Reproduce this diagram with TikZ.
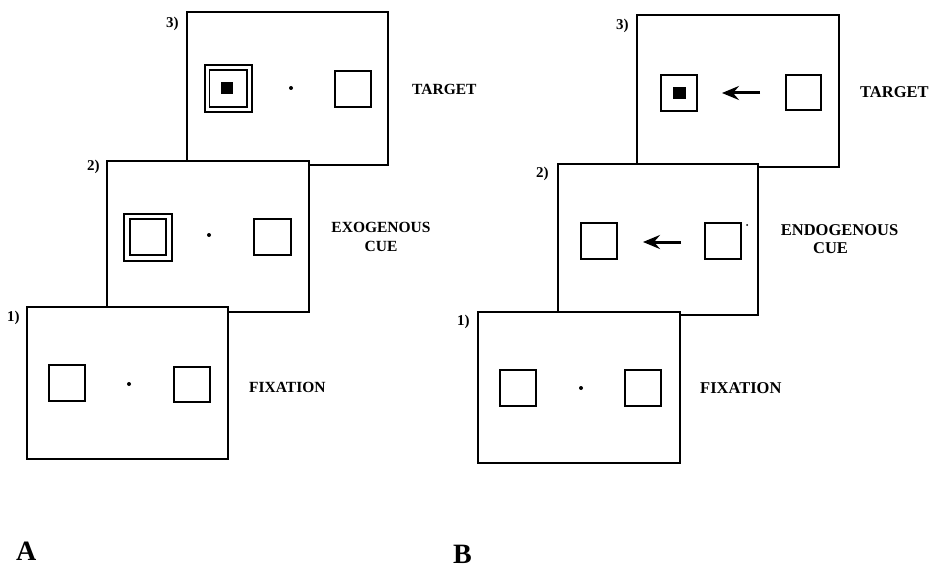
\documentclass[tikz,border=0pt]{standalone}
\usepackage{fontspec}
\setmainfont{Liberation Serif}
\usetikzlibrary{arrows.meta}

\begin{document}
\begin{tikzpicture}[x=1pt,y=-1pt,
  screen/.style={draw=black, fill=white, line width=2pt, line join=miter},
  stim/.style={draw=black, line width=1.7pt},
  probe/.style={fill=black},
  fixdot/.style={fill=black, circle, inner sep=0pt, minimum size=4pt},
  speck/.style={fill=black, circle, inner sep=0pt, minimum size=2pt},
  cuearrow/.style={line width=3pt, -{Stealth[length=17pt,width=14pt,inset=6pt]}},
  lbl/.style={font=\bfseries\fontsize{15.5}{18}\selectfont, inner sep=0pt},
  lblb/.style={font=\bfseries\fontsize{16.5}{19}\selectfont, inner sep=0pt},
  num/.style={font=\bfseries\fontsize{15}{18}\selectfont, inner sep=0pt, anchor=base west},
  panel/.style={font=\bfseries\fontsize{28}{30}\selectfont, inner sep=0pt, anchor=base west}]

\useasboundingbox (0,0) rectangle (929,575);

% ---------------- Panel A: exogenous cueing ----------------
% screen 3 (target)
\draw[screen] (187,12) rectangle (388,165);
\draw[stim] (205,65) rectangle (252,112);
\draw[stim] (209.5,70) rectangle (247,107);
\fill[probe] (221,82) rectangle (233,94);
\node[fixdot] (a3dot) at (291,88) {};
\draw[stim] (335,71) rectangle (371,107);
\node[lbl, anchor=base west] (a3lbl) at (412,95) {TARGET};
\node[num] (a3num) at (166,28) {3)};

% screen 2 (exogenous cue)
\draw[screen] (107,161) rectangle (309,312);
\draw[stim] (124,214) rectangle (172,261);
\draw[stim] (130,219) rectangle (166,255);
\node[fixdot] (a2dot) at (209,235) {};
\draw[stim] (254,219) rectangle (291,255);
\node[lbl, anchor=base] (a2lbl) at (381,232) {EXOGENOUS};
\node[lbl, anchor=base] (a2cue) at (381,251) {CUE};
\node[num] (a2num) at (87,171) {2)};

% screen 1 (fixation)
\draw[screen] (27,307) rectangle (228,459);
\draw[stim] (49,365) rectangle (85,401);
\node[fixdot] (a1dot) at (129,384) {};
\draw[stim] (174,367) rectangle (210,402);
\node[lbl, anchor=base west] (a1lbl) at (249,392) {FIXATION};
\node[num] (a1num) at (7,321) {1)};

\node[panel] (pa) at (16,560) {A};

% ---------------- Panel B: endogenous cueing ----------------
% screen 3 (target)
\draw[screen] (637,15) rectangle (839,167);
\draw[stim] (661,75) rectangle (697,111);
\fill[probe] (673,87) rectangle (686,99);
\coordinate (b3tail) at (760,93);
\coordinate (b3tip) at (722,93);
\draw[cuearrow] (b3tail) -- (b3tip);
\draw[stim] (786,75) rectangle (821,110);
\node[lblb, anchor=base west] (b3lbl) at (860,98) {TARGET};
\node[num] (b3num) at (616,30) {3)};

% screen 2 (endogenous cue)
\draw[screen] (558,164) rectangle (758,315);
\draw[stim] (581,223) rectangle (617,259);
\coordinate (b2tail) at (681,242);
\coordinate (b2tip) at (643,242);
\draw[cuearrow] (b2tail) -- (b2tip);
\draw[stim] (705,223) rectangle (741,259);
\node[speck] (b2speck) at (747,225) {};
\node[lblb, anchor=base] (b2lbl) at (839.5,235) {ENDOGENOUS};
\node[lblb, anchor=base] (b2cue) at (830.5,253) {CUE};
\node[num] (b2num) at (536,177) {2)};

% screen 1 (fixation)
\draw[screen] (478,312) rectangle (680,463);
\draw[stim] (500,370) rectangle (536,406);
\node[fixdot] (b1dot) at (581,388) {};
\draw[stim] (625,370) rectangle (661,406);
\node[lblb, anchor=base west] (b1lbl) at (700,393) {FIXATION};
\node[num] (b1num) at (457,325) {1)};

\node[panel] (pb) at (453,563) {B};
\end{tikzpicture}
\end{document}
